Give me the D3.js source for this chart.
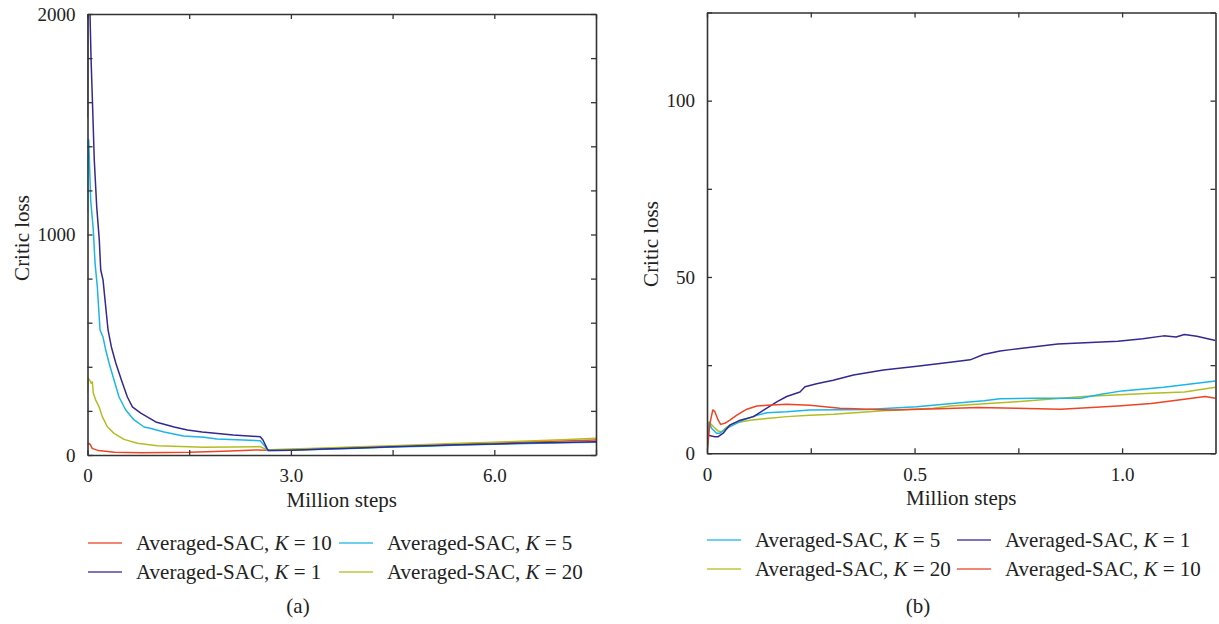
<!DOCTYPE html>
<html>
<head>
<meta charset="utf-8">
<script src="https://cdn.jsdelivr.net/npm/d3@7"></script>
<style>
  body { margin: 0; background: #fff; }
  svg { display: block; }
  text { font-family: "Liberation Serif", "DejaVu Serif", serif; fill: #222; }
</style>
</head>
<body>
<svg id="chart" width="1219" height="624"></svg>
<script>
// ---- Panel (a): full training run ----
const aK1Steps  = [0, 0.005, 0.037, 0.052, 0.077, 0.1, 0.136, 0.174, 0.195, 0.229, 0.254, 0.303, 0.352, 0.417, 0.5, 0.588, 0.662, 0.786, 1.007, 1.278, 1.474, 1.691, 2.149, 2.548, 2.588, 2.647, 2.67, 3.0, 3.5, 4.0, 4.5, 5.0, 5.5, 6.0, 6.5, 7.0, 7.5];
const aK1Loss   = [1530, 2150, 2000, 1800, 1565, 1338, 1125, 975, 839, 794, 717, 567, 490, 417, 340, 263, 218, 190, 150, 127, 113, 104, 91, 83, 68, 30, 20, 22, 27, 32, 37, 42, 46, 50, 54, 57, 60];
const aK5Steps  = [0, 0.004, 0.018, 0.047, 0.086, 0.111, 0.145, 0.185, 0.229, 0.269, 0.318, 0.391, 0.465, 0.564, 0.687, 0.835, 0.923, 1.13, 1.415, 1.72, 1.908, 2.2, 2.548, 2.62, 2.656, 3.0, 3.5, 4.0, 4.5, 5.0, 5.5, 6.0, 6.5, 7.0, 7.5];
const aK5Loss   = [1100, 1430, 1429, 1156, 1020, 871, 762, 567, 535, 476, 417, 340, 263, 204, 159, 127, 121, 104, 86, 80, 73, 69, 65, 38, 20, 21, 26, 31, 36, 40, 45, 49, 52, 55, 58];
const aK20Steps = [0, 0.007, 0.032, 0.056, 0.071, 0.086, 0.121, 0.17, 0.219, 0.292, 0.391, 0.539, 0.736, 1.031, 1.72, 2.548, 2.647, 2.7, 3.0, 3.5, 4.0, 4.5, 5.0, 5.5, 6.0, 6.5, 7.0, 7.5];
const aK20Loss  = [280, 348, 340, 325, 332, 280, 249, 219, 174, 128, 98, 71, 53, 42, 35, 38, 23, 24, 27, 32, 37, 42, 48, 53, 58, 63, 69, 76];
const aK10Steps = [0, 0.02, 0.04, 0.07, 0.16, 0.4, 0.8, 1.5, 2.0, 2.5, 2.65, 3.0, 3.5, 4.0, 4.5, 5.0, 5.5, 6.0, 6.5, 7.0, 7.5];
const aK10Loss  = [45, 53, 48, 30, 20, 12, 10, 12, 17, 23, 22, 24, 29, 34, 39, 44, 50, 55, 60, 64, 68];

const aXTicks = [0, 1.5, 3.0, 4.5, 6.0, 7.5];
const aXLabels = ["0", "", "3.0", "", "6.0", ""];
const aYTicks = [0, 200, 400, 600, 800, 1000, 1200, 1400, 1600, 1800, 2000];
const aYLabels = ["0", "", "", "", "", "1000", "", "", "", "", "2000"];

// ---- Panel (b): first 1.2 million steps ----
const bK1Steps  = [0, 0.002, 0.011, 0.019, 0.027, 0.039, 0.055, 0.08, 0.112, 0.144, 0.168, 0.192, 0.224, 0.236, 0.264, 0.304, 0.353, 0.425, 0.506, 0.586, 0.634, 0.666, 0.706, 0.732, 0.845, 0.99, 1.05, 1.1, 1.13, 1.15, 1.18, 1.225];
const bK1Loss   = [0, 5.2, 4.9, 4.7, 4.7, 5.7, 8.0, 9.4, 10.4, 12.8, 14.6, 16.1, 17.4, 18.9, 19.7, 20.7, 22.2, 23.6, 24.7, 25.8, 26.5, 28.0, 29.0, 29.4, 31.0, 31.8, 32.5, 33.3, 33.0, 33.7, 33.2, 32.0];
const bK5Steps  = [0, 0.005, 0.011, 0.023, 0.031, 0.047, 0.063, 0.087, 0.12, 0.144, 0.192, 0.248, 0.385, 0.505, 0.61, 0.667, 0.706, 0.79, 0.9, 0.946, 1.0, 1.1, 1.225];
const bK5Loss   = [0, 8.7, 7.1, 5.7, 5.7, 7.1, 8.0, 9.4, 10.8, 11.5, 11.8, 12.3, 12.4, 13.2, 14.3, 14.9, 15.5, 15.6, 15.6, 16.7, 17.7, 18.7, 20.5];
const bK20Steps = [0, 0.005, 0.015, 0.027, 0.035, 0.047, 0.063, 0.104, 0.144, 0.192, 0.248, 0.305, 0.424, 0.545, 0.586, 0.706, 0.746, 0.907, 1.07, 1.15, 1.225];
const bK20Loss  = [0, 8.9, 7.6, 6.3, 6.1, 7.4, 8.5, 9.4, 9.9, 10.4, 10.8, 11.1, 12.1, 12.8, 13.4, 14.3, 14.6, 16.1, 17.0, 17.4, 18.7];
const bK10Steps = [0, 0.007, 0.014, 0.019, 0.027, 0.033, 0.043, 0.055, 0.072, 0.096, 0.12, 0.144, 0.192, 0.248, 0.32, 0.444, 0.56, 0.653, 0.745, 0.852, 0.99, 1.07, 1.15, 1.2, 1.225];
const bK10Loss  = [0, 8.5, 12.3, 11.8, 9.4, 8.2, 8.5, 9.4, 10.8, 12.5, 13.4, 13.6, 13.9, 13.6, 12.8, 12.3, 12.6, 13.0, 12.8, 12.5, 13.4, 14.1, 15.3, 16.1, 15.6];

const bXTicks = [0, 0.25, 0.5, 0.75, 1.0];
const bXLabels = ["0", "", "0.5", "", "1.0"];
const bYTicks = [0, 25, 50, 75, 100, 125];
const bYLabels = ["0", "", "50", "", "100", ""];

const colors = { k10: "#ef4424", k5: "#1bb6e6", k1: "#33298e", k20: "#b4bc22" };

const svg = d3.select("#chart");

function zip(xs, ys) { return xs.map((x, i) => [x, ys[i]]); }

function drawPanel(cfg) {
  const x = d3.scaleLinear().domain(cfg.xDomain).range([cfg.left, cfg.right]);
  const y = d3.scaleLinear().domain(cfg.yDomain).range([cfg.bottom, cfg.top]);
  const g = svg.append("g");
  const clipId = "clip-" + cfg.id;
  svg.append("clipPath").attr("id", clipId)
    .append("rect").attr("x", cfg.left).attr("y", cfg.top)
    .attr("width", cfg.right - cfg.left).attr("height", cfg.bottom - cfg.top);

  const line = d3.line().x(d => x(d[0])).y(d => y(d[1]));
  const lines = g.append("g").attr("clip-path", `url(#${clipId})`);
  cfg.series.forEach(s => {
    lines.append("path").datum(zip(s.steps, s.loss))
      .attr("d", line).attr("fill", "none")
      .attr("stroke", s.color).attr("stroke-width", 1.5)
      .attr("stroke-linejoin", "round");
  });

  const tickLen = 5;
  const axisColor = "#333";
  const fmtX = (d, i) => cfg.xLabels[i];
  const fmtY = (d, i) => cfg.yLabels[i];

  // frame: bottom and left carry labels, all four sides carry inward ticks
  const bottom = g.append("g").attr("transform", `translate(0,${cfg.bottom})`)
    .call(d3.axisBottom(x).tickValues(cfg.xTicks).tickFormat(fmtX).tickSizeInner(-tickLen).tickSizeOuter(0).tickPadding(14));
  const top = g.append("g").attr("transform", `translate(0,${cfg.top})`)
    .call(d3.axisTop(x).tickValues(cfg.xTicks).tickFormat("").tickSizeInner(-tickLen).tickSizeOuter(0));
  const left = g.append("g").attr("transform", `translate(${cfg.left},0)`)
    .call(d3.axisLeft(y).tickValues(cfg.yTicks).tickFormat(fmtY).tickSizeInner(-tickLen).tickSizeOuter(0).tickPadding(12));
  const right = g.append("g").attr("transform", `translate(${cfg.right},0)`)
    .call(d3.axisRight(y).tickValues(cfg.yTicks).tickFormat("").tickSizeInner(-tickLen).tickSizeOuter(0));
  [bottom, top, left, right].forEach(a => {
    a.select(".domain").attr("stroke", axisColor).attr("stroke-width", 1.6);
    a.selectAll(".tick line").attr("stroke", axisColor).attr("stroke-width", 1.3);
    a.selectAll(".tick text").attr("font-size", 19)
      .attr("font-family", "Liberation Serif, DejaVu Serif, serif").attr("fill", "#222");
  });

  // axis titles
  g.append("text").attr("x", (cfg.left + cfg.right) / 2).attr("y", cfg.bottom + 52)
    .attr("text-anchor", "middle").attr("font-size", 21).text("Million steps");
  g.append("text")
    .attr("transform", `translate(${cfg.yTitleX},${cfg.yTitleY}) rotate(-90)`)
    .attr("text-anchor", "middle").attr("font-size", 21).text("Critic loss");

  // legend: two columns, two rows
  cfg.legend.forEach((item, i) => {
    const col = i % 2, row = Math.floor(i / 2);
    const lx = cfg.legendX[col], ly = cfg.legendY + row * cfg.legendDy;
    g.append("line").attr("x1", lx).attr("x2", lx + 34).attr("y1", ly).attr("y2", ly)
      .attr("stroke", item.color).attr("stroke-width", 1.5).attr("opacity", 0.85);
    const t = g.append("text").attr("x", lx + 48).attr("y", ly + 7).attr("font-size", 21);
    t.append("tspan").text("Averaged-SAC, ");
    t.append("tspan").attr("font-style", "italic").text("K");
    t.append("tspan").text(" = " + item.k);
  });

  g.append("text").attr("x", cfg.capX).attr("y", 613).attr("text-anchor", "middle")
    .attr("font-size", 21).text(cfg.caption);
}

drawPanel({
  id: "a", left: 87.5, right: 596, top: 14, bottom: 455,
  xDomain: [0, 7.5], yDomain: [0, 2000],
  xTicks: aXTicks, xLabels: aXLabels, yTicks: aYTicks, yLabels: aYLabels,
  yTitleX: 29, yTitleY: 238,
  series: [
    { steps: aK10Steps, loss: aK10Loss, color: colors.k10 },
    { steps: aK20Steps, loss: aK20Loss, color: colors.k20 },
    { steps: aK5Steps,  loss: aK5Loss,  color: colors.k5 },
    { steps: aK1Steps,  loss: aK1Loss,  color: colors.k1 }
  ],
  legend: [
    { k: "10", color: colors.k10 }, { k: "5", color: colors.k5 },
    { k: "1", color: colors.k1 },   { k: "20", color: colors.k20 }
  ],
  legendX: [88, 339], legendY: 543, legendDy: 29,
  capX: 298, caption: "(a)"
});

drawPanel({
  id: "b", left: 707, right: 1215.5, top: 12.5, bottom: 453.3,
  xDomain: [0, 1.225], yDomain: [0, 125],
  xTicks: bXTicks, xLabels: bXLabels, yTicks: bYTicks, yLabels: bYLabels,
  yTitleX: 658, yTitleY: 244,
  series: [
    { steps: bK20Steps, loss: bK20Loss, color: colors.k20 },
    { steps: bK5Steps,  loss: bK5Loss,  color: colors.k5 },
    { steps: bK1Steps,  loss: bK1Loss,  color: colors.k1 },
    { steps: bK10Steps, loss: bK10Loss, color: colors.k10 }
  ],
  legend: [
    { k: "5", color: colors.k5 },   { k: "1", color: colors.k1 },
    { k: "20", color: colors.k20 }, { k: "10", color: colors.k10 }
  ],
  legendX: [707, 957], legendY: 540, legendDy: 29,
  capX: 918, caption: "(b)"
});
</script>
</body>
</html>
